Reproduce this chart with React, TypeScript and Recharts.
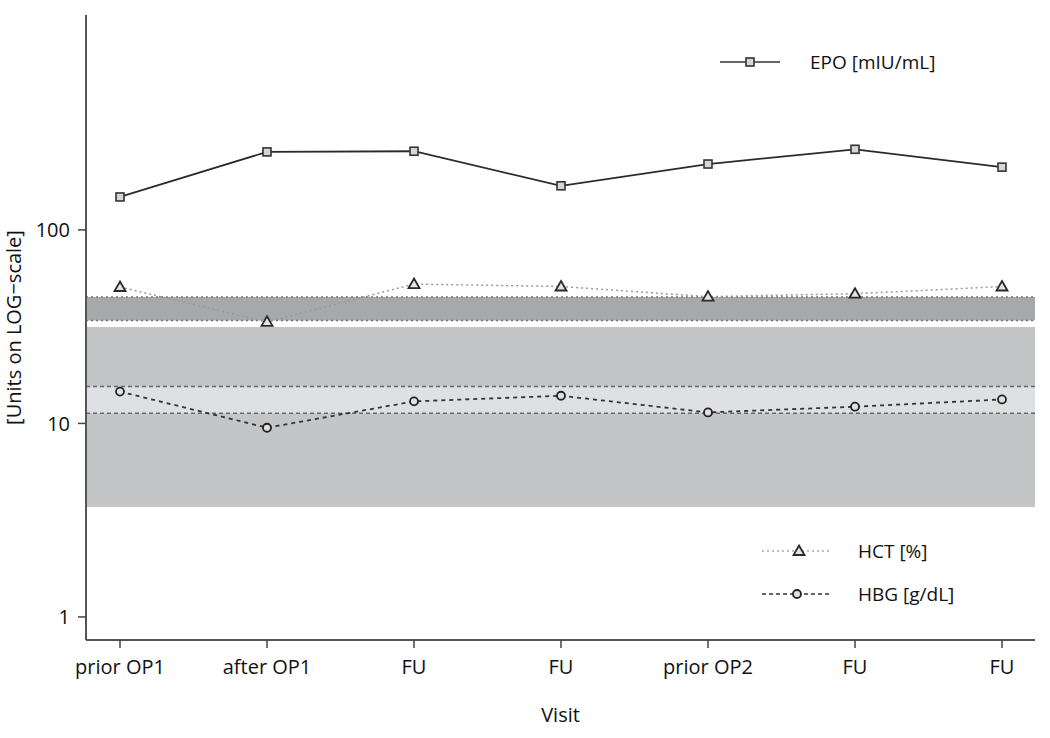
import React from "react";
import {
  LineChart,
  Line,
  XAxis,
  YAxis,
  ReferenceArea,
  ReferenceLine,
  Legend,
} from "recharts";

const visits = ["prior OP1", "after OP1", "FU", "FU", "prior OP2", "FU", "FU"];
const epo = [148, 253, 255, 169, 219, 261, 211];
const hct = [50.7, 33.5, 52.5, 51, 45.2, 46.8, 51];
const hbg = [14.6, 9.5, 13, 13.9, 11.4, 12.2, 13.3];

const yTicks = [1, 10, 100];
const yDomain = [0.76, 1290];

// normal ranges
const epoRange = [3.7, 31.5];
const hctRange = [34, 45];
const hbgRange = [11.3, 15.5];

const data = visits.map((visit, i) => ({
  visit,
  epo: epo[i],
  hct: hct[i],
  hbg: hbg[i],
}));

const lastIdx = visits.length - 1;

const FONT = "'Open Sans', 'DejaVu Sans', sans-serif";

const SquareDot = (props: any) => {
  const { cx, cy } = props;
  if (cx == null || cy == null) return null;
  return (
    <rect
      key={`sq-${cx}`}
      x={cx - 4}
      y={cy - 4}
      width={8}
      height={8}
      fill="#d6d6d6"
      stroke="#333"
      strokeWidth={1.6}
    />
  );
};

const TriDot = (props: any) => {
  const { cx, cy } = props;
  if (cx == null || cy == null) return null;
  return (
    <path
      key={`tri-${cx}`}
      d={`M${cx},${cy - 5.5} L${cx + 5.5},${cy + 4} L${cx - 5.5},${cy + 4} Z`}
      fill="#e4e4e4"
      stroke="#2a2a2a"
      strokeWidth={1.8}
    />
  );
};

const CircDot = (props: any) => {
  const { cx, cy } = props;
  if (cx == null || cy == null) return null;
  return (
    <circle
      key={`ci-${cx}`}
      cx={cx}
      cy={cy}
      r={4}
      fill="#e0e0e0"
      stroke="#222"
      strokeWidth={1.8}
    />
  );
};

const LegendBox = () => (
  <svg width={1050} height={738} style={{ position: "absolute", left: 0, top: 0 }}>
    <g fontFamily={FONT} fontSize={19} fill="#111">
      <line x1={720} x2={780} y1={62} y2={62} stroke="#333" strokeWidth={1.5} />
      <SquareDot cx={750} cy={62} />
      <text x={810} y={69}>EPO [mIU/mL]</text>

      <line x1={762} x2={830} y1={551} y2={551} stroke="#aaa" strokeWidth={1.5} strokeDasharray="2 3" />
      <TriDot cx={799} cy={551} />
      <text x={858} y={558}>HCT [%]</text>

      <line x1={762} x2={830} y1={594} y2={594} stroke="#333" strokeWidth={1.5} strokeDasharray="4 3" />
      <CircDot cx={797} cy={594} />
      <text x={858} y={601}>HBG [g/dL]</text>
    </g>
  </svg>
);

export default function App() {
  return (
    <div style={{ position: "absolute", left: 0, top: 0, width: 1050, height: 738, background: "#fff" }}>
      <LineChart
        width={1050}
        height={738}
        data={data}
        margin={{ top: 15, right: 15, bottom: 0, left: 0 }}
        style={{ fontFamily: FONT }}
      >
        <XAxis xAxisId="bg" type="number" domain={[0, lastIdx]} allowDataOverflow hide />
        <ReferenceArea xAxisId="bg" x1={0} x2={lastIdx} y1={epoRange[0]} y2={epoRange[1]} fill="#c4c5c7" fillOpacity={1} stroke="none" ifOverflow="hidden" />
        <ReferenceArea xAxisId="bg" x1={0} x2={lastIdx} y1={hbgRange[0]} y2={hbgRange[1]} fill="#dfe0e3" fillOpacity={1} stroke="none" ifOverflow="hidden" />
        <ReferenceArea xAxisId="bg" x1={0} x2={lastIdx} y1={hctRange[0]} y2={hctRange[1]} fill="#a7a8aa" fillOpacity={1} stroke="none" ifOverflow="hidden" />
        <ReferenceLine xAxisId="bg" y={hctRange[0]} stroke="#777" strokeWidth={1.5} strokeDasharray="2 3" />
        <ReferenceLine xAxisId="bg" y={hctRange[1]} stroke="#777" strokeWidth={1.5} strokeDasharray="2 3" />
        <ReferenceLine xAxisId="bg" y={hbgRange[0]} stroke="#666" strokeWidth={1.5} strokeDasharray="4 3" />
        <ReferenceLine xAxisId="bg" y={hbgRange[1]} stroke="#666" strokeWidth={1.5} strokeDasharray="4 3" />

        <XAxis
          dataKey="visit"
          interval={0}
          height={98}
          padding={{ left: 34, right: 33 }}
          axisLine={{ stroke: "#555", strokeWidth: 2 }}
          tickLine={{ stroke: "#444", strokeWidth: 1.5 }}
          tickSize={8}
          tick={{ fontSize: 20, fill: "#111", dy: 10 }}
          label={{ value: "Visit", position: "insideBottom", offset: 16, fontSize: 20, fill: "#111" }}
        />
        <YAxis
          scale="log"
          domain={yDomain}
          allowDataOverflow
          ticks={yTicks}
          width={86}
          axisLine={{ stroke: "#555", strokeWidth: 2 }}
          tickLine={{ stroke: "#444", strokeWidth: 1.5 }}
          tickSize={8}
          tick={{ fontSize: 20, fill: "#111", dx: -6 }}
          label={{
            value: "[Units on LOG\u2212scale]",
            angle: -90,
            position: "insideLeft",
            offset: 14,
            fontSize: 20,
            fill: "#111",
            style: { textAnchor: "middle" },
          }}
        />

        <Line
          dataKey="hct"
          stroke="#9a9a9a"
          strokeWidth={1.5}
          strokeDasharray="2 3"
          dot={<TriDot />}
          isAnimationActive={false}
        />
        <Line
          dataKey="hbg"
          stroke="#333"
          strokeWidth={1.8}
          strokeDasharray="4 4"
          dot={<CircDot />}
          isAnimationActive={false}
        />
        <Line
          dataKey="epo"
          stroke="#2b2b2b"
          strokeWidth={1.8}
          dot={<SquareDot />}
          isAnimationActive={false}
        />
        <Legend
          layout="horizontal"
          verticalAlign="middle"
          align="center"
          wrapperStyle={{ position: "absolute", left: 0, top: 0, width: 1050, height: 738, pointerEvents: "none" }}
          content={() => <LegendBox />}
        />
      </LineChart>
    </div>
  );
}
